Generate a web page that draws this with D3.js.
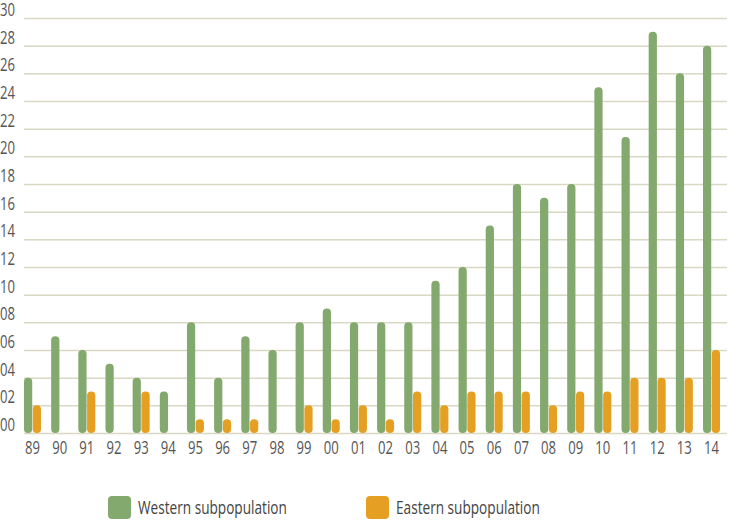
<!DOCTYPE html>
<head>
  <meta charset="utf-8">
  <script src="https://d3js.org/d3.v7.min.js"></script>
  <style>
    body { margin:0; background:#fff; }
    svg { display:block; }
    text { font-family: "Open Sans", "DejaVu Sans", sans-serif; font-weight:400; fill:#555; }
  </style>
</head>

<body>
	<script type='text/javascript'>
		// data
		var years = ["89","90","91","92","93","94","95","96","97","98","99","00","01","02","03","04","05","06","07","08","09","10","11","12","13","14"];
		var western = [4, 7, 6, 5, 4, 3, 8, 4, 7, 6, 8, 9, 8, 8, 8, 11, 12, 15, 18, 17, 18, 25, 21.4, 29, 26, 28];
		var eastern = [2, 0, 3, 0, 3, 0, 1, 1, 1, 0, 2, 1, 2, 1, 3, 2, 3, 3, 3, 2, 3, 3, 4, 4, 4, 6];
		var yTicks = [0, 2, 4, 6, 8, 10, 12, 14, 16, 18, 20, 22, 24, 26, 28, 30];
		var seriesNames = ["Western subpopulation", "Eastern subpopulation"];
		var colors = ["#84a96e", "#e5a023"];

		var width = 742, height = 520;
		var left = 24, gridRight = 727;

		var svg = d3.select('body').append('svg')
			.attr('width', width)
			.attr('height', height);

		// the original font is a condensed one: narrow the text, keep its anchor
		function condense(sel, k) {
			sel.each(function() {
				var t = d3.select(this);
				var tx = +t.attr('x') || 0;
				t.attr('x', tx / k).attr('transform', 'scale(' + k + ',1)');
			});
		}

		// scales
		var x = d3.scaleBand()
			.domain(years)
			.range([left, left + years.length * 27.16])
			.padding(0);

		var x1 = d3.scaleBand()
			.domain([0, 1])
			.range([0, 17])
			.paddingInner(0.06);

		var y = d3.scaleLinear()
			.domain([0, 30])
			.range([433, 18]);

		// gridlines + y labels
		var yAxis = d3.axisRight(y)
			.tickValues(yTicks)
			.tickSize(gridRight - left)
			.tickFormat(d3.format("02d"));

		var gy = svg.append('g')
			.attr('transform', 'translate(' + left + ',0)')
			.attr('font-family', null)
			.attr('font-size', null)
			.call(yAxis);
		gy.attr('font-family', null).attr('font-size', null);
		gy.select('.domain').remove();
		gy.selectAll('line')
			.attr('stroke', '#d9d8c3')
			.attr('stroke-width', 1.5);
		gy.selectAll('text')
			.attr('x', -left)
			.attr('dy', -2.5)
			.attr('text-anchor', 'start')
			.style('font-size', '19px')
			.style('fill', '#555')
			.call(condense, 0.69);

		// bars
		var groups = svg.append('g').selectAll('g')
			.data(years).enter().append('g')
			.attr('transform', d => 'translate(' + x(d) + ',0)');

		groups.selectAll('rect')
			.data((d, i) => [western[i], eastern[i]].map((v, k) => ({k: k, v: v})).filter(e => e.v > 0))
			.enter().append('rect')
			.attr('x', d => x1(d.k))
			.attr('y', d => y(d.v))
			.attr('width', x1.bandwidth())
			.attr('height', d => y(0) - y(d.v))
			.attr('rx', 4)
			.attr('fill', d => colors[d.k]);

		// x labels
		var xAxis = d3.axisBottom(x)
			.tickSize(0)
			.offset(0);

		var gx = svg.append('g')
			.attr('transform', 'translate(' + (17 / 2 - x.bandwidth() / 2) + ',438)')
			.call(xAxis);
		gx.attr('font-family', null).attr('font-size', null);
		gx.select('.domain').remove();
		gx.selectAll('text')
			.style('font-size', '19px')
			.style('fill', '#555')
			.call(condense, 0.69);

		// legend
		var legendX = [108, 366];
		var legendW = [149, 144];
		var legend = svg.append('g').selectAll('g')
			.data(seriesNames).enter().append('g')
			.attr('transform', (d, i) => 'translate(' + legendX[i] + ',496)');

		legend.append('rect')
			.attr('width', 23)
			.attr('height', 23)
			.attr('rx', 4)
			.attr('fill', (d, i) => colors[i]);

		legend.append('text')
			.attr('x', 30)
			.attr('y', 12)
			.attr('dy', '0.35em')
			.style('font-size', '18px')
			.style('fill', '#444')
			.text(d => d)
			.each(function(d, i) {
				var k = legendW[i] / this.getComputedTextLength();
				d3.select(this).call(condense, k);
			});
	</script>
</body>
